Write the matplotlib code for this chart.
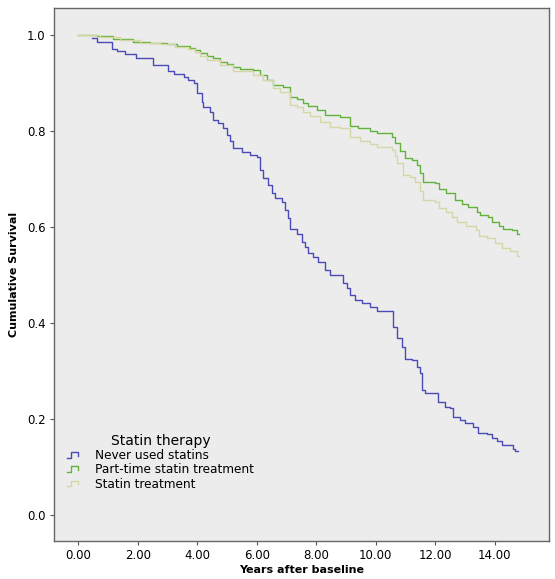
import numpy as np
import matplotlib
matplotlib.use('Agg')
import matplotlib.pyplot as plt
from matplotlib.legend_handler import HandlerLine2D
from matplotlib.lines import Line2D

# 生存曲线数据 (从图中读取的阶梯点)
never_t = [0.45, 0.62, 1.13, 1.30, 1.57, 1.94, 2.51, 3.02, 3.22, 3.55, 3.69, 3.89,
           4.00, 4.15, 4.20, 4.43, 4.54, 4.71, 4.87, 4.99, 5.10, 5.21, 5.49, 5.77,
           6.00, 6.11, 6.20, 6.39, 6.50, 6.61, 6.84, 6.95, 7.06, 7.12, 7.34, 7.51,
           7.62, 7.73, 7.90, 8.07, 8.29, 8.46, 8.91, 9.02, 9.13, 9.30, 9.53, 9.81,
           10.03, 10.59, 10.70, 10.87, 10.98, 11.21, 11.37, 11.49, 11.54, 11.65,
           12.10, 12.33, 12.49, 12.61, 12.83, 13.00, 13.28, 13.45, 13.73, 13.90,
           14.06, 14.23, 14.62, 14.68, 14.79]
never_s = [0.994, 0.985, 0.971, 0.967, 0.960, 0.952, 0.938, 0.925, 0.919, 0.913, 0.906, 0.900,
           0.879, 0.861, 0.849, 0.840, 0.823, 0.816, 0.806, 0.792, 0.778, 0.764, 0.757, 0.750,
           0.745, 0.719, 0.701, 0.688, 0.670, 0.660, 0.653, 0.635, 0.618, 0.595, 0.585, 0.569,
           0.559, 0.545, 0.538, 0.528, 0.510, 0.500, 0.483, 0.472, 0.458, 0.448, 0.441, 0.434,
           0.424, 0.392, 0.368, 0.351, 0.326, 0.323, 0.309, 0.295, 0.260, 0.254,
           0.236, 0.226, 0.222, 0.205, 0.198, 0.191, 0.184, 0.170, 0.169, 0.160,
           0.155, 0.146, 0.137, 0.133, 0.133]

part_t = [0.00, 0.62, 1.17, 1.84, 2.41, 2.98, 3.32, 3.76, 3.92, 4.09, 4.33, 4.53, 4.76,
          5.00, 5.19, 5.43, 5.86, 6.09, 6.34, 6.54, 6.88, 7.12, 7.34, 7.55, 7.72, 8.01,
          8.29, 8.79, 9.13, 9.40, 9.81, 10.03, 10.54, 10.65, 10.81, 10.98, 11.21, 11.37,
          11.49, 11.60, 11.99, 12.12, 12.36, 12.66, 12.89, 13.10, 13.40, 13.50, 13.78,
          13.90, 14.14, 14.29, 14.58, 14.74, 14.81]
part_s = [1.000, 0.998, 0.992, 0.986, 0.983, 0.981, 0.976, 0.972, 0.969, 0.962, 0.955, 0.951, 0.944,
          0.940, 0.934, 0.929, 0.926, 0.917, 0.906, 0.896, 0.891, 0.871, 0.867, 0.858, 0.851, 0.844,
          0.833, 0.830, 0.810, 0.806, 0.799, 0.795, 0.788, 0.775, 0.758, 0.744, 0.740, 0.729,
          0.712, 0.694, 0.692, 0.679, 0.671, 0.656, 0.648, 0.642, 0.631, 0.625, 0.620,
          0.611, 0.602, 0.596, 0.593, 0.585, 0.585]

statin_t = [0.00, 0.73, 1.40, 2.07, 2.75, 3.25, 3.69, 3.92, 4.09, 4.33, 4.76, 5.20, 5.87,
            6.21, 6.54, 6.78, 7.12, 7.34, 7.55, 7.79, 8.12, 8.46, 8.80, 9.13, 9.47, 9.81,
            10.03, 10.54, 10.63, 10.70, 10.92, 11.15, 11.32, 11.49, 11.60, 11.99, 12.13,
            12.36, 12.56, 12.73, 13.03, 13.37, 13.47, 13.73, 14.01, 14.25, 14.52, 14.74, 14.81]
statin_s = [1.000, 0.996, 0.990, 0.984, 0.981, 0.975, 0.970, 0.965, 0.955, 0.948, 0.938, 0.924, 0.917,
            0.906, 0.889, 0.882, 0.854, 0.849, 0.840, 0.831, 0.819, 0.809, 0.806, 0.788, 0.778, 0.773,
            0.767, 0.760, 0.748, 0.733, 0.708, 0.705, 0.694, 0.675, 0.656, 0.653, 0.639,
            0.631, 0.621, 0.611, 0.601, 0.594, 0.582, 0.576, 0.566, 0.556, 0.549, 0.539, 0.539]

groups = ['Never used statins', 'Part-time statin treatment', 'Statin treatment']
colors = ['#4a4ab8', '#62b23c', '#d6d6a6']
x_ticks = [0, 2, 4, 6, 8, 10, 12, 14]
y_ticks = [0.0, 0.2, 0.4, 0.6, 0.8, 1.0]


# 图例里的阶梯小图标
class StepHandler(HandlerLine2D):
    def create_artists(self, legend, orig_handle, xdescent, ydescent, width, height, fontsize, trans):
        x0 = -xdescent
        y0 = -ydescent
        xs = [x0, x0 + width * 0.3, x0 + width * 0.3, x0 + width * 0.85, x0 + width * 0.85]
        ys = [y0 + height * 0.15, y0 + height * 0.15, y0 + height * 0.85, y0 + height * 0.85, y0 + height * 0.4]
        line = Line2D(xs, ys, color=orig_handle.get_color(), lw=1.0, transform=trans)
        return [line]


fig = plt.figure(figsize=(5.55, 5.79), dpi=100)
ax = fig.add_axes([0.0973, 0.0656, 0.8917, 0.9206])
ax.set_facecolor('#ececec')

handles = []
for t, s, c, g in zip([never_t, part_t, statin_t], [never_s, part_s, statin_s], colors, groups):
    h, = ax.plot(t, s, drawstyle='steps-post', color=c, lw=1.0, label=g)
    handles.append(h)

ax.set_xlim(-0.82, 15.82)
ax.set_ylim(-0.054, 1.056)
ax.set_xticks(x_ticks)
ax.set_xticklabels(['{:.2f}'.format(v) for v in x_ticks])
ax.set_yticks(y_ticks)
ax.set_yticklabels(['{:.1f}'.format(v) for v in y_ticks])
ax.tick_params(direction='out', length=3, width=0.8, color='#555555', labelsize=8.5, pad=3)
for sp in ax.spines.values():
    sp.set_color('#666666')
    sp.set_linewidth(1.0)

ax.set_xlabel('Years after baseline', fontsize=8, fontweight='bold', labelpad=2)
ax.set_ylabel('Cumulative Survival', fontsize=8, fontweight='bold', labelpad=6)

leg = ax.legend(handles=handles, title='Statin therapy', loc='lower left',
                bbox_to_anchor=(0.005, 0.074), frameon=False, fontsize=8.7,
                title_fontsize=10, handlelength=1.0, handletextpad=1.3,
                labelspacing=0.1, handler_map={Line2D: StepHandler()})

fig.savefig('out.png', dpi=100)
